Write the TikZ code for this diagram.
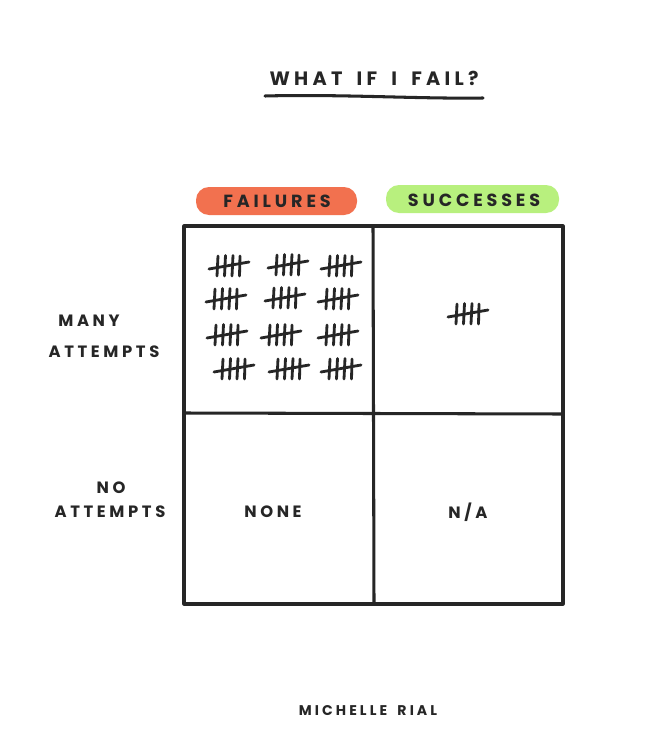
\documentclass[tikz,border=0pt]{standalone}
\usepackage{fontspec}
\newfontfamily\hand[LetterSpace=22, WordSpace=1.8]{Poppins}
\newfontfamily\handt[LetterSpace=22, WordSpace=1.7]{Poppins}
\definecolor{ink}{HTML}{262626}
\definecolor{failc}{HTML}{F2714F}
\definecolor{succc}{HTML}{B8F07E}
\begin{document}
\begin{tikzpicture}[x=0.03cm,y=-0.03cm,
  lbl/.style={font=\hand\bfseries\fontsize{14}{16}\selectfont, text=ink, inner sep=0pt, align=center},
  hdr/.style={lbl, font=\hand\bfseries\fontsize{15}{17}\selectfont},
  ttl/.style={font=\handt\bfseries\fontsize{16.5}{18}\selectfont, text=ink, inner sep=0pt},
  pill/.style={rounded corners=13*0.03cm, inner sep=0pt},
  gridline/.style={draw=ink, line width=2.6pt, line cap=round, line join=round},
  tally/.pic={
    \draw[ink, line width=2.4pt, line cap=round]
      (-11,10)--(-10,-10) (-3.5,10)--(-2.5,-10.5) (4,10)--(5,-10.5) (11.5,10)--(12,-10);
    \draw[ink, line width=2.4pt, line cap=round] (-19,3)--(21,-4);
  }]
\useasboundingbox (0,0) rectangle (660,730);
\fill[white] (0,0) rectangle (660,730);
% title
\node[ttl] (title) at (374,78) {WHAT IF I FAIL?};
\draw[ink, line width=2.6pt, line cap=round] (265,96) .. controls (340,94) and (420,99) .. (483,98);
% headers
\fill[failc, pill] (196,187) rectangle (357,215);
\fill[succc, pill] (386,185) rectangle (559,213);
\node[hdr] (fail) at (277,201) {FAILURES};
\node[hdr] (succ) at (474,200) {SUCCESSES};
% grid
\coordinate (tl) at (184,226);
\coordinate (br) at (563,604);
\draw[gridline] (tl) rectangle (br);
\draw[gridline] (373,226) -- (374,604);
\draw[gridline] (184,413) -- (563,414);
% row labels
\node[lbl] (many) at (89,321) {MANY};
\node[lbl] (ma) at (104,352) {ATTEMPTS};
\node[lbl] (no) at (111,488) {NO};
\node[lbl] (na) at (110,512) {ATTEMPTS};
% cells
\node[lbl] (none) at (273,512) {NONE};
\node[lbl] (nacell) at (468,512) {N/A};
% tallies
\foreach \x/\y in {228/266, 287/265, 340/266,
                   225/299, 284/298, 337/299,
                   226/335, 280/335, 337/335,
                   233/369, 288/369, 340/369}
  \pic at (\x,\y) {tally};
\pic at (467,314) {tally};
% credit
\node[lbl, font=\hand\bfseries\fontsize{12}{14}\selectfont] (credit) at (368,711) {MICHELLE RIAL};
\end{tikzpicture}
\end{document}
